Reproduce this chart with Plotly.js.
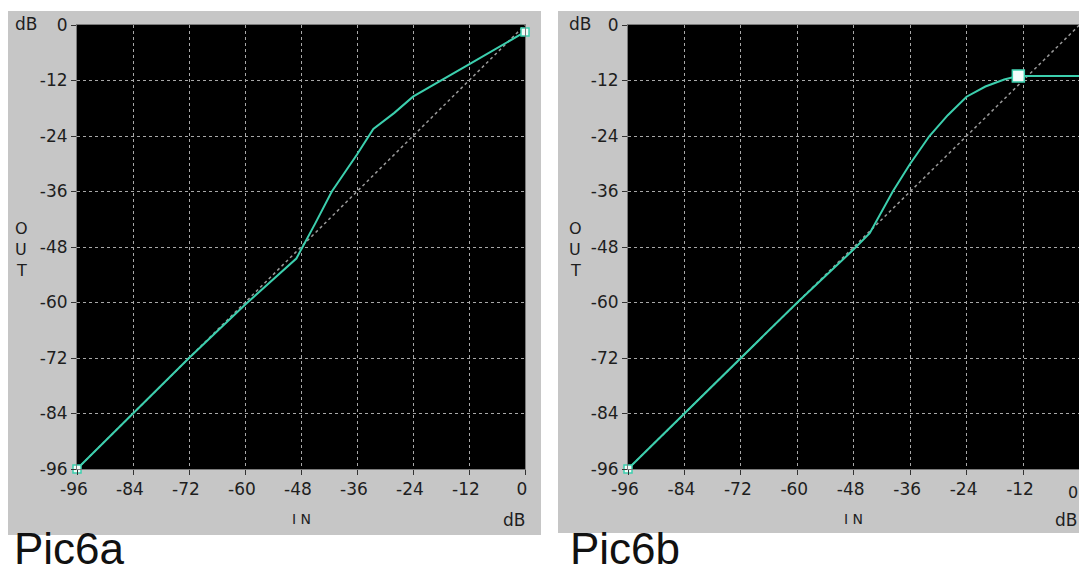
<!DOCTYPE html>
<html>
<head>
<meta charset="utf-8">
<script src="https://cdn.plot.ly/plotly-3.0.1.min.js"></script>
<style>html,body{margin:0;padding:0;background:#fff;}#chart{width:1079px;height:574px;}</style>
</head>
<body>
<div id="chart"></div>
<script>
// ---- data ----
const tickValues = [-96, -84, -72, -60, -48, -36, -24, -12, 0];
const tickLabels = ["-96", "-84", "-72", "-60", "-48", "-36", "-24", "-12", "0"];
const unityIn = [-96, 0];
const unityOut = [-96, 0];
const inA = [-96, -72, -60, -49, -45, -41.4, -36, -32.5, -28, -24, -12, 0];
const outA = [-96, -72, -60.5, -50.5, -43, -36, -28, -22.5, -19, -15.5, -8.5, -1.5];
const markA_in = [-96, 0];
const markA_out = [-96, -1.5];
const inB = [-96, -60, -48, -44.6, -39.7, -36, -31.9, -28, -24, -20, -16, -13, 0];
const outB = [-96, -60, -48.5, -45, -36, -30, -24, -19.5, -15.5, -13.3, -11.8, -11, -11];
const markB_small_in = [-96];
const markB_small_out = [-96];
const markB_big_in = [-13, 0];
const markB_big_out = [-11, -11];
const panelTitles = ["Pic6a", "Pic6b"];

// ---- style ----
const W = 1079, H = 574;
const px = v => v / W;
const py = v => 1 - v / H;
const curveColor = "#3ccfae";
const font = "DejaVu Sans, Arial, sans-serif";

function axis(domain, range, anchor) {
  return {
    domain: domain, range: range, anchor: anchor,
    tickmode: "array", tickvals: tickValues, ticktext: tickLabels,
    showgrid: true, gridcolor: "#a8a8a8", griddash: "dot", gridwidth: 1,
    zeroline: false, showline: true, linecolor: "#7a7a7a", linewidth: 1, mirror: true,
    ticks: "outside", ticklen: 5, tickcolor: "#333", tickwidth: 1,
    tickfont: {family: font, size: 17, color: "#1e1e1e"},
    fixedrange: true
  };
}

const xA = axis([px(77), px(525)], [-96, 0], "y");
xA.ticklabelshift = -3;
const yA = axis([py(469), py(25)], [-96, 0], "x");
const xB = axis([px(628), 1], [-96, -0.1], "y2");
xB.ticklabelshift = -3;
const yB = axis([py(469), py(25)], [-96, 0], "x2");

const traces = [
  {x: unityIn, y: unityOut, xaxis: "x", yaxis: "y", mode: "lines", line: {color: "#9a9a9a", width: 1.5, dash: "dot"}, hoverinfo: "skip"},
  {x: inA, y: outA, xaxis: "x", yaxis: "y", mode: "lines", line: {color: curveColor, width: 2}},
  {x: markA_in, y: markA_out, xaxis: "x", yaxis: "y", mode: "markers", cliponaxis: false,
   marker: {symbol: "square", size: 8, color: "#f2fbf8", line: {color: curveColor, width: 1.5}}},
  {x: unityIn, y: unityOut, xaxis: "x2", yaxis: "y2", mode: "lines", line: {color: "#9a9a9a", width: 1.5, dash: "dot"}, hoverinfo: "skip"},
  {x: inB, y: outB, xaxis: "x2", yaxis: "y2", mode: "lines", line: {color: curveColor, width: 2}},
  {x: markB_small_in, y: markB_small_out, xaxis: "x2", yaxis: "y2", mode: "markers", cliponaxis: false,
   marker: {symbol: "square", size: 8, color: "#f2fbf8", line: {color: curveColor, width: 1.5}}},
  {x: markB_big_in, y: markB_big_out, xaxis: "x2", yaxis: "y2", mode: "markers", cliponaxis: false,
   marker: {symbol: "square", size: 12, color: "#f4fbfa", line: {color: curveColor, width: 1.5}}}
];

const txt = (x, y, text, size, anchor) => ({
  xref: "paper", yref: "paper", x: px(x), y: py(y), text: text, showarrow: false,
  xanchor: anchor || "center", yanchor: "middle",
  font: {family: font, size: size, color: "#1e1e1e"}
});

const annotations = [
  txt(26, 24, "dB", 17), txt(580, 24, "dB", 17),
  txt(21, 228, "O", 16), txt(21, 249, "U", 16), txt(21, 270, "T", 16),
  txt(575, 228, "O", 16), txt(575, 249, "U", 16), txt(575, 270, "T", 16),
  txt(301, 519, "I N", 14), txt(853, 519, "I N", 14),
  txt(514, 520, "dB", 17), txt(1066, 520, "dB", 17),
  txt(1073, 492, "0", 16),
  {xref: "paper", yref: "paper", x: px(13), y: 0, text: panelTitles[0], showarrow: false,
   xanchor: "left", yanchor: "bottom", borderpad: 0, font: {family: "Liberation Sans, Arial, sans-serif", size: 44, color: "#111"}},
  {xref: "paper", yref: "paper", x: px(569), y: 0, text: panelTitles[1], showarrow: false,
   xanchor: "left", yanchor: "bottom", borderpad: 0, font: {family: "Liberation Sans, Arial, sans-serif", size: 44, color: "#111"}}
];

const shapes = [
  {type: "rect", xref: "paper", yref: "paper", x0: px(8), x1: px(541), y0: py(535), y1: py(11), fillcolor: "#c6c6c6", line: {width: 0}, layer: "below"},
  {type: "rect", xref: "paper", yref: "paper", x0: px(558), x1: 1, y0: py(533), y1: py(11), fillcolor: "#c6c6c6", line: {width: 0}, layer: "below"},
  {type: "rect", xref: "x domain", yref: "y domain", x0: 0, x1: 1, y0: 0, y1: 1, fillcolor: "#000000", line: {width: 0}, layer: "below"},
  {type: "rect", xref: "x2 domain", yref: "y2 domain", x0: 0, x1: 1, y0: 0, y1: 1, fillcolor: "#000000", line: {width: 0}, layer: "below"}
];

const layout = {
  width: W, height: H, margin: {l: 0, r: 0, t: 0, b: 0},
  paper_bgcolor: "#ffffff", plot_bgcolor: "#000000",
  showlegend: false,
  xaxis: xA, yaxis: yA, xaxis2: xB, yaxis2: yB,
  annotations: annotations, shapes: shapes
};

Plotly.newPlot("chart", traces, layout, {displayModeBar: false, staticPlot: true});
</script>
</body>
</html>
